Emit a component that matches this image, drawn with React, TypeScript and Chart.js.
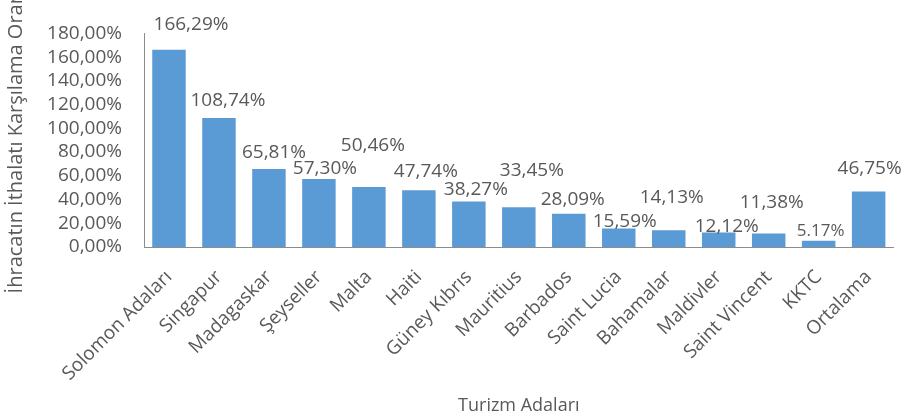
import React, { useEffect, useRef } from "react";
import { Chart, registerables } from "chart.js";

Chart.register(...registerables);

const categories = [
  "Solomon Adaları", "Singapur", "Madagaskar", "Şeyseller", "Malta", "Haiti",
  "Güney Kıbrıs", "Mauritius", "Barbados", "Saint Lucia", "Bahamalar",
  "Maldivler", "Saint Vincent", "KKTC", "Ortalama",
];
const values = [166.29, 108.74, 65.81, 57.3, 50.46, 47.74, 38.27, 33.45, 28.09, 15.59, 14.13, 12.12, 11.38, 5.17, 46.75];
const valueLabels = [
  "166,29%", "108,74%", "65,81%", "57,30%", "50,46%", "47,74%", "38,27%", "33,45%",
  "28,09%", "15,59%", "14,13%", "12,12%", "11,38%", "5.17%", "46,75%",
];
const yTickValues = [0, 20, 40, 60, 80, 100, 120, 140, 160, 180];

// label placement (pixel offsets from bar top centre) – styling only
const labelDx = [22, 9, 5, 6, 4, 7, 7, 13, 4, 6, 3, 8, 3, 2, 1];
const labelDy = [-25, -17, -16, -10, -42, -19, -12, -37, -14, -7, -33, -6, -31, -10, -23];
const labelSize = [19, 19, 19, 19, 19, 19, 19, 19, 19, 19, 19, 19, 19, 17, 19];

const FONT = "'Open Sans'";
const GREY = "#595959";

const labelPlugin = {
  id: "barLabels",
  afterDatasetsDraw(chart: any) {
    const ctx = chart.ctx;
    const meta = chart.getDatasetMeta(0);
    ctx.save();
    ctx.fillStyle = GREY;
    ctx.textAlign = "center";
    ctx.textBaseline = "middle";
    meta.data.forEach((bar: any, i: number) => {
      ctx.font = `${labelSize[i]}px ${FONT}`;
      ctx.fillText(valueLabels[i], bar.x + labelDx[i], bar.y + labelDy[i]);
    });
    ctx.restore();
  },
};

export default function App() {
  const ref = useRef<HTMLCanvasElement | null>(null);
  useEffect(() => {
    document.body.style.margin = "0";
    const chart = new Chart(ref.current as HTMLCanvasElement, {
      type: "bar",
      data: {
        labels: categories,
        datasets: [
          {
            data: values,
            backgroundColor: "#5B9BD5",
            categoryPercentage: 1,
            barPercentage: 0.67,
          },
        ],
      },
      options: {
        animation: false,
        responsive: false,
        maintainAspectRatio: false,
        layout: { padding: { top: 31, right: 7, left: 0, bottom: 0 } },
        plugins: { legend: { display: false }, tooltip: { enabled: false } },
        scales: {
          x: {
            grid: { display: false, drawTicks: false },
            border: { display: true, color: "#8c8c8c", width: 1 },
            ticks: {
              color: GREY,
              font: { family: FONT, size: 19 },
              minRotation: 45,
              maxRotation: 45,
              autoSkip: false,
              padding: 19,
            },
            title: {
              display: true,
              text: "Turizm Adaları",
              color: GREY,
              font: { family: FONT, size: 18 },
              padding: { top: 0, bottom: 0 },
            },
            afterFit: (s: any) => {
              s.height = 170;
            },
          },
          y: {
            min: 0,
            max: 180,
            grid: { display: false, drawTicks: false },
            border: { display: true, color: "#8c8c8c", width: 1 },
            afterBuildTicks: (s: any) => {
              s.ticks = yTickValues.map((v) => ({ value: v }));
            },
            ticks: {
              color: GREY,
              font: { family: FONT, size: 19 },
              padding: 22,
              autoSkip: false,
              callback: (v: any) => Number(v).toFixed(2).replace(".", ",") + "%",
            },
            title: {
              display: true,
              text: "İhracatın İthalatı Karşılama Oranı",
              color: GREY,
              font: { family: FONT, size: 20 },
              padding: { top: 4, bottom: 0 },
            },
            afterFit: (s: any) => {
              s.width = 144;
            },
          },
        },
      },
      plugins: [labelPlugin],
    });
    return () => chart.destroy();
  }, []);
  return (
    <div style={{ width: 904, height: 417 }}>
      <canvas ref={ref} width={904} height={417} style={{ width: 904, height: 417 }} />
    </div>
  );
}
